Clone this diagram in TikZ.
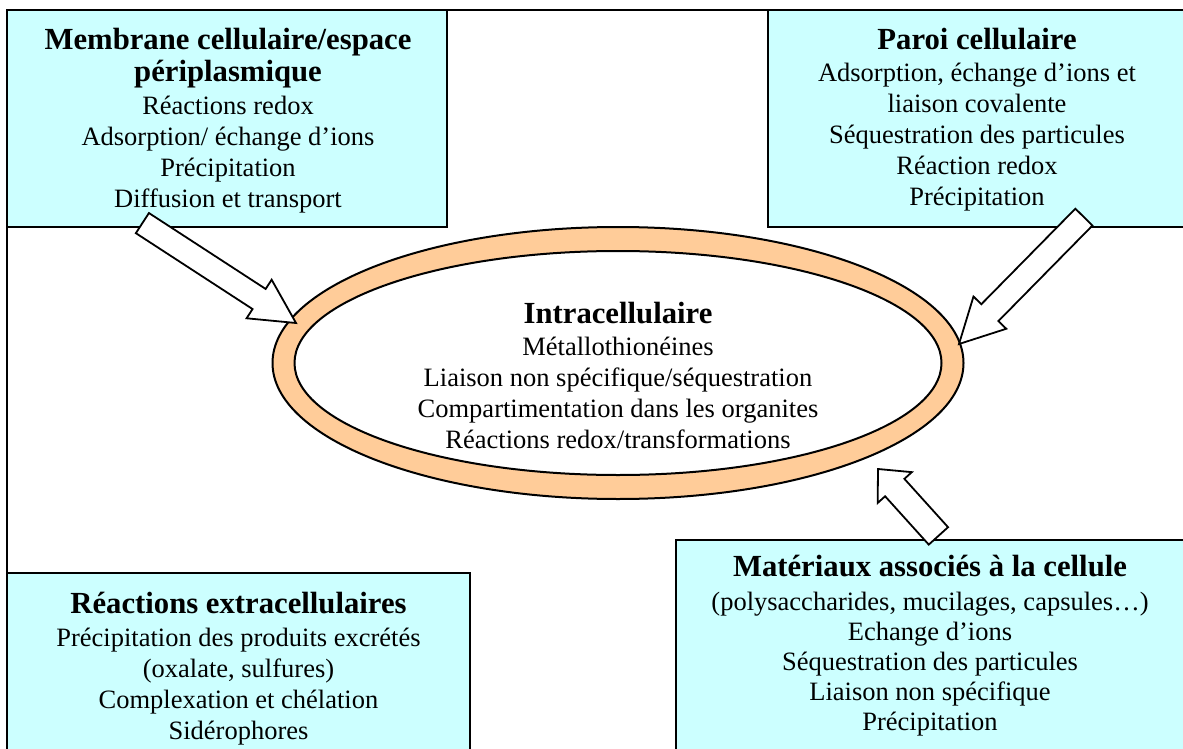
\documentclass[tikz,border=0pt]{standalone}
\usepackage{fontspec}
\setmainfont{Liberation Serif}
\usetikzlibrary{calc,shapes.geometric}
\definecolor{boxcyan}{HTML}{CCFFFF}
\definecolor{ringpeach}{HTML}{FFCC99}
\newcommand\ttl{\fontsize{30.7}{33}\selectfont\bfseries}
% block arrow: #1 tail, #2 tip, #3 head length, #4 shaft half width, #5 head half width
\newcommand\blockarrow[5]{%
  \coordinate (hb) at ($(#2)!#3!(#1)$);
  \draw[blk] ($(#1)!#4!90:(#2)$) -- ($(hb)!#4!90:(#2)$) -- ($(hb)!#5!90:(#2)$) -- (#2)
    -- ($(hb)!#5!-90:(#2)$) -- ($(hb)!#4!-90:(#2)$) -- ($(#1)!#4!-90:(#2)$) -- cycle;}
\begin{document}
\begin{tikzpicture}[x=1pt,y=-1pt,
  box/.style={draw=black, line width=2.2pt, fill=boxcyan, rectangle, inner sep=0pt},
  txt/.style={align=center, font=\fontsize{26.5}{31}\selectfont, inner sep=0pt},
  blk/.style={draw=black, line width=1.8pt, fill=white, line join=miter},
  ring/.style={ellipse, draw=black, line width=2pt, inner sep=0pt},
]
\useasboundingbox (0,0) rectangle (1183,749);
\begin{scope}
\clip (0,0) rectangle (1183,749);
\draw[line width=2.2pt] (7,10) rectangle (1192,762);
% boxes
\node[box, minimum width=440, minimum height=217] (b1) at (227,118.5) {};
\node[box, minimum width=418, minimum height=217] (b2) at (977,118.5) {};
\node[box, minimum width=463, minimum height=190] (b3) at (238.5,668) {};
\node[box, minimum width=508, minimum height=224] (b4) at (930,652) {};
% ellipse
\node[ring, fill=ringpeach, minimum width=691, minimum height=272] (ell) at (618,363) {};
\node[ring, fill=white, minimum width=647, minimum height=224] (ellin) at (ell.center) {};
% texts
\node[txt] (t1) at (228,120.5) {\ttl Membrane cellulaire/espace\\[1.5pt] \ttl périplasmique\\[1.5pt] Réactions redox\\ Adsorption/ échange d’ions\\ Précipitation\\ Diffusion et transport};
\node[txt] (t2) at (977,119.75) {\ttl Paroi cellulaire\\[1.5pt] Adsorption, échange d’ions et\\ liaison covalente\\ Séquestration des particules\\ Réaction redox\\ Précipitation};
\node[txt] (t3) at (238.5,668.5) {\ttl Réactions extracellulaires\\[1.5pt] Précipitation des produits excrétés\\ (oxalate, sulfures)\\ Complexation et chélation\\ Sidérophores};
\node[txt] (t4) at (930,645.5) {\ttl Matériaux associés à la cellule\\[2.5pt] (polysaccharides, mucilages, capsules…)\\[-1pt] Echange d’ions\\[-1pt] Séquestration des particules\\[-1pt] Liaison non spécifique\\[-1pt] Précipitation};
\node[txt] (t0) at (618,375.5) {\ttl Intracellulaire\\[1.5pt] Métallothionéines\\ Liaison non spécifique/séquestration\\ Compartimentation dans les organites\\ Réactions redox/transformations};
% arrow end points
\coordinate (aT) at ($(b1.south west)+(136.5,-5)$);
\coordinate (aP) at ($(ell.center)+(-322,-40)$);
\coordinate (bT) at ($(b2.south west)+(317,-11)$);
\coordinate (bP) at ($(ell.center)+(341,-19)$);
\coordinate (cT) at ($(b4.north west)+(263.5,-3)$);
\coordinate (cP) at ($(ell.center)+(260,106)$);
\blockarrow{aT}{aP}{44pt}{12pt}{23pt}
\blockarrow{bT}{bP}{44pt}{12pt}{23pt}
\blockarrow{cT}{cP}{25pt}{13pt}{23pt}
\end{scope}
\end{tikzpicture}
\end{document}
